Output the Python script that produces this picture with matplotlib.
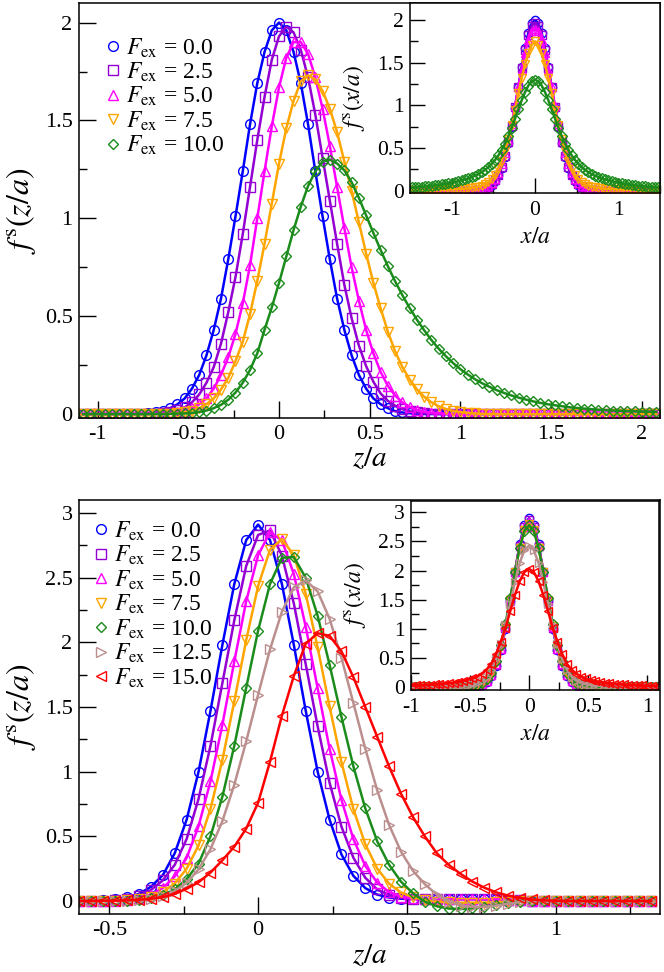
import matplotlib
matplotlib.use('Agg')
import matplotlib.pyplot as plt
import numpy as np
from matplotlib.lines import Line2D
from matplotlib.ticker import MultipleLocator, FuncFormatter

plt.rcParams['font.family'] = ['Liberation Serif', 'DejaVu Serif']
plt.rcParams['mathtext.fontset'] = 'stix'
plt.rcParams['axes.unicode_minus'] = False

COLORS = ['#0000ff', '#9400d3', '#ff00ff', '#ffa500', '#1b8c1b', '#bc8f8f', '#ff0000']
MARKERS = ['o', 's', '^', 'v', 'D', '>', '<']
MSIZE = [7, 6.5, 7, 7, 5.5, 7, 7]

forces_top = ['0.0', '2.5', '5.0', '7.5', '10.0']
forces_bot = ['0.0', '2.5', '5.0', '7.5', '10.0', '12.5', '15.0']

# sampling grids (step 0.04 a)
z_top = -1.08 + 0.04 * np.arange(80)
x_top = -1.48 + 0.04 * np.arange(75)
z_bot = -0.60 + 0.04 * np.arange(49)
x_bot = -1.00 + 0.04 * np.arange(53)

######################################################################
# upper panel, f^s(z/a)

f0_top = [0, 0, 0, 0, 0, 0, 0, 0,
          0.002, 0.004, 0.008, 0.015, 0.03, 0.05, 0.08, 0.13, 0.20, 0.30,
          0.43, 0.59, 0.79, 1.01, 1.24, 1.48, 1.69, 1.85, 1.96,
          2.00, 1.96, 1.85, 1.69, 1.48, 1.24, 1.01, 0.79, 0.59, 0.43,
          0.30, 0.20, 0.13, 0.08, 0.05, 0.03, 0.015, 0.008, 0.004, 0.002,
          0, 0, 0, 0, 0, 0, 0, 0, 0, 0, 0, 0, 0, 0, 0, 0, 0,
          0, 0, 0, 0, 0, 0, 0, 0, 0, 0, 0, 0, 0, 0, 0, 0]
f25_top = [0, 0, 0, 0, 0, 0, 0, 0, 0, 0,
           0.002, 0.005, 0.010, 0.019, 0.034, 0.06, 0.10, 0.16, 0.24,
           0.36, 0.52, 0.70, 0.92, 1.16, 1.40, 1.62, 1.81,
           1.93, 1.98, 1.95, 1.86, 1.72, 1.53, 1.31, 1.09, 0.87, 0.66, 0.49,
           0.35, 0.245, 0.165, 0.105, 0.067, 0.043, 0.025, 0.014, 0.008, 0.004, 0.002,
           0, 0, 0, 0, 0, 0, 0, 0, 0, 0, 0, 0, 0, 0, 0, 0,
           0, 0, 0, 0, 0, 0, 0, 0, 0, 0, 0, 0, 0, 0, 0]
f5_top = [0, 0, 0, 0, 0, 0, 0, 0, 0, 0, 0,
          0.002, 0.005, 0.01, 0.018, 0.03, 0.05, 0.08, 0.13,
          0.20, 0.29, 0.41, 0.565, 0.76, 1.00, 1.24, 1.47,
          1.67, 1.82, 1.90, 1.90, 1.84, 1.72, 1.56, 1.37, 1.16, 0.95, 0.75, 0.58,
          0.43, 0.31, 0.215, 0.144, 0.094, 0.059, 0.036, 0.021, 0.012, 0.007, 0.004, 0.002,
          0, 0, 0, 0, 0, 0, 0, 0, 0, 0, 0, 0, 0, 0, 0,
          0, 0, 0, 0, 0, 0, 0, 0, 0, 0, 0, 0, 0, 0]
f75_top = [0, 0, 0, 0, 0, 0, 0, 0, 0, 0, 0, 0,
           0.002, 0.005, 0.01, 0.018, 0.03, 0.05, 0.08, 0.125,
           0.185, 0.27, 0.37, 0.51, 0.68, 0.87, 1.075,
           1.28, 1.46, 1.60, 1.70, 1.73, 1.71, 1.65, 1.56, 1.44, 1.29,
           1.14, 0.98, 0.82, 0.67, 0.54, 0.42, 0.32, 0.24, 0.176, 0.126,
           0.088, 0.060, 0.040, 0.026, 0.016, 0.010, 0.006, 0.003, 0.001,
           0, 0, 0, 0, 0, 0, 0, 0, 0, 0, 0, 0,
           0, 0, 0, 0, 0, 0, 0, 0, 0, 0, 0, 0]
f10_top = [0, 0, 0, 0, 0, 0, 0, 0, 0, 0, 0, 0,
           0.001, 0.002, 0.003, 0.006, 0.011, 0.018, 0.03, 0.047,
           0.073, 0.11, 0.16, 0.225, 0.31, 0.43, 0.545,
           0.67, 0.805, 0.94, 1.06, 1.165, 1.24, 1.29,
           1.30, 1.28, 1.245, 1.185, 1.105, 1.015, 0.925, 0.838, 0.755, 0.678,
           0.607, 0.542, 0.482, 0.428, 0.378, 0.334, 0.295, 0.260, 0.229, 0.202,
           0.178, 0.157, 0.139, 0.122, 0.108, 0.095, 0.084, 0.074, 0.065, 0.057,
           0.050, 0.045, 0.040, 0.035, 0.031, 0.028, 0.025, 0.022, 0.020, 0.018,
           0.017, 0.015, 0.014, 0.013, 0.012, 0.011]

# upper inset, f^s(x/a)
g0_top = [0, 0, 0, 0, 0, 0, 0, 0, 0, 0, 0, 0, 0, 0, 0, 0, 0, 0,
          0.001, 0.003, 0.006, 0.012, 0.022, 0.04, 0.068, 0.11, 0.18, 0.27,
          0.40, 0.56, 0.75, 0.97, 1.21, 1.45, 1.67, 1.85, 1.96,
          2.00,
          1.96, 1.85, 1.67, 1.45, 1.21, 0.97, 0.75, 0.56, 0.40,
          0.27, 0.18, 0.11, 0.068, 0.04, 0.022, 0.012, 0.006, 0.003, 0.001,
          0, 0, 0, 0, 0, 0, 0, 0, 0, 0, 0, 0, 0, 0, 0, 0, 0, 0]
g25_top = [0, 0, 0, 0, 0, 0, 0, 0, 0, 0, 0, 0, 0, 0, 0, 0, 0,
           0.001, 0.002, 0.004, 0.007, 0.014, 0.025, 0.044, 0.074, 0.12, 0.19,
           0.28, 0.41, 0.57, 0.76, 0.98, 1.21, 1.44, 1.65, 1.82, 1.93,
           1.97,
           1.93, 1.82, 1.65, 1.44, 1.21, 0.98, 0.76, 0.57, 0.41, 0.28,
           0.19, 0.12, 0.074, 0.044, 0.025, 0.014, 0.007, 0.004, 0.002, 0.001,
           0, 0, 0, 0, 0, 0, 0, 0, 0, 0, 0, 0, 0, 0, 0, 0, 0]
g5_top = [0, 0, 0, 0, 0, 0, 0, 0, 0, 0, 0, 0, 0, 0, 0, 0, 0,
          0.001, 0.003, 0.005, 0.010, 0.018, 0.032, 0.054, 0.089, 0.14, 0.21,
          0.31, 0.44, 0.60, 0.78, 0.99, 1.21, 1.42, 1.61, 1.77, 1.87,
          1.90,
          1.87, 1.77, 1.61, 1.42, 1.21, 0.99, 0.78, 0.60, 0.44, 0.31,
          0.21, 0.14, 0.089, 0.054, 0.032, 0.018, 0.010, 0.005, 0.003, 0.001,
          0, 0, 0, 0, 0, 0, 0, 0, 0, 0, 0, 0, 0, 0, 0, 0, 0]
g75_top = [0.005, 0.006, 0.006, 0.007, 0.008, 0.008, 0.009, 0.010, 0.011, 0.012,
           0.013, 0.015, 0.016, 0.018, 0.020, 0.022, 0.025, 0.028, 0.032, 0.038,
           0.046, 0.058, 0.075, 0.10, 0.14, 0.19, 0.26, 0.35, 0.47, 0.61,
           0.77, 0.95, 1.14, 1.32, 1.48, 1.61, 1.71,
           1.75,
           1.71, 1.61, 1.48, 1.32, 1.14, 0.95, 0.77,
           0.61, 0.47, 0.35, 0.26, 0.19, 0.14, 0.10, 0.075, 0.058, 0.046,
           0.038, 0.032, 0.028, 0.025, 0.022, 0.020, 0.018, 0.016, 0.015, 0.013,
           0.012, 0.011, 0.010, 0.009, 0.008, 0.008, 0.007, 0.006, 0.006, 0.005]
g10_top = [0.038, 0.041, 0.044, 0.047, 0.051, 0.055, 0.059, 0.064, 0.069, 0.075,
           0.081, 0.088, 0.095, 0.103, 0.112, 0.122, 0.133, 0.146, 0.160, 0.176,
           0.195, 0.218, 0.245, 0.277, 0.315, 0.360, 0.414, 0.478, 0.553, 0.640,
           0.738, 0.845, 0.955, 1.060, 1.155, 1.232, 1.283,
           1.300,
           1.283, 1.232, 1.155, 1.060, 0.955, 0.845, 0.738,
           0.640, 0.553, 0.478, 0.414, 0.360, 0.315, 0.277, 0.245, 0.218, 0.195,
           0.176, 0.160, 0.146, 0.133, 0.122, 0.112, 0.103, 0.095, 0.088, 0.081,
           0.075, 0.069, 0.064, 0.059, 0.055, 0.051, 0.047, 0.044, 0.041, 0.038]

######################################################################
# lower panel, f^s(z/a)

f0_bot = [0, 0.002, 0.006, 0.014, 0.028, 0.055, 0.11, 0.20, 0.37, 0.63,
          1.00, 1.47, 1.98, 2.45, 2.79,
          2.91, 2.79, 2.45, 1.98, 1.47, 1.00, 0.63, 0.36, 0.195, 0.10,
          0.05, 0.027, 0.018, 0.015, 0.015, 0.015, 0.015, 0.015, 0.015, 0.014,
          0.012, 0.009, 0.005, 0.002,
          0, 0, 0, 0, 0, 0, 0, 0, 0, 0]
f25_bot = [0, 0.001, 0.003, 0.008, 0.018, 0.04, 0.085, 0.16, 0.28, 0.48,
           0.79, 1.20, 1.685, 2.17, 2.59,
           2.83, 2.865, 2.67, 2.30, 1.83, 1.35, 0.915, 0.575, 0.335, 0.18,
           0.09, 0.045, 0.025, 0.018, 0.016, 0.016, 0.016, 0.016, 0.016, 0.015,
           0.013, 0.01, 0.006, 0.003, 0.001,
           0, 0, 0, 0, 0, 0, 0, 0, 0]
f5_bot = [0, 0.001, 0.002, 0.004, 0.01, 0.022, 0.05, 0.10, 0.19, 0.334,
          0.579, 0.925, 1.363, 1.852, 2.318,
          2.674, 2.85, 2.788, 2.528, 2.12, 1.644, 1.179, 0.782, 0.479, 0.272,
          0.143, 0.069, 0.035, 0.02, 0.014, 0.014, 0.014, 0.014, 0.014, 0.014,
          0.012, 0.009, 0.005, 0.002,
          0, 0, 0, 0, 0, 0, 0, 0, 0, 0]
f75_bot = [0, 0, 0.001, 0.003, 0.007, 0.015, 0.035, 0.07, 0.135, 0.25,
           0.43, 0.712, 1.091, 1.543, 2.017,
           2.435, 2.716, 2.798, 2.673, 2.374, 1.96, 1.504, 1.073, 0.711, 0.439,
           0.251, 0.134, 0.066, 0.03, 0.008, -0.005, -0.011, -0.013, -0.013, -0.012,
           -0.01, -0.006, -0.002, 0,
           0, 0, 0, 0, 0, 0, 0, 0, 0, 0]
f10_bot = [0, 0, 0.001, 0.002, 0.004, 0.009, 0.02, 0.045, 0.09, 0.17,
           0.29, 0.50, 0.807, 1.20, 1.648,
           2.091, 2.451, 2.653, 2.659, 2.498, 2.205, 1.827, 1.423, 1.041, 0.716,
           0.462, 0.28, 0.15, 0.06, -0.005, -0.04, -0.058, -0.062, -0.056, -0.043,
           -0.029, -0.016, -0.007, -0.002,
           0, 0, 0, 0, 0, 0, 0, 0, 0, 0]
f125_bot = [0, 0, 0.001, 0.002, 0.004, 0.009, 0.019, 0.039, 0.077, 0.141,
            0.245, 0.401, 0.618, 0.899, 1.234,
            1.595, 1.945, 2.237, 2.425, 2.479, 2.393, 2.182, 1.88, 1.531, 1.178,
            0.856, 0.588, 0.382, 0.234, 0.13, 0.05, -0.005, -0.035, -0.045, -0.045,
            -0.035, -0.02, -0.008, 0,
            0, 0, 0, 0, 0, 0, 0, 0, 0, 0]
f15_bot = [0, 0.001, 0.002, 0.003, 0.006, 0.01, 0.018, 0.03, 0.055, 0.095,
           0.145, 0.22, 0.315, 0.42, 0.56,
           0.76, 1.078, 1.434, 1.74, 1.99, 2.07, 2.05, 1.93, 1.73, 1.50,
           1.27, 1.04, 0.83, 0.65, 0.50, 0.37, 0.28, 0.21, 0.15, 0.103,
           0.067, 0.042, 0.024, 0.012, 0.005, 0.002,
           0, 0, 0, 0, 0, 0, 0, 0]

# lower inset, f^s(x/a)
g0_bot = [0, 0, 0, 0, 0, 0, 0, 0, 0, 0, 0, 0,
          0.002, 0.006, 0.017, 0.041, 0.092, 0.19, 0.36, 0.63, 1.00, 1.47, 1.98, 2.45, 2.78,
          2.90, 2.78, 2.45, 1.98, 1.47, 1.00, 0.63, 0.36, 0.19, 0.092, 0.041, 0.017, 0.006, 0.002,
          0, 0, 0, 0, 0, 0, 0, 0, 0, 0, 0, 0, 0, 0]
g25_bot = [0, 0, 0, 0, 0, 0, 0, 0, 0, 0, 0,
           0.001, 0.003, 0.008, 0.019, 0.046, 0.10, 0.20, 0.38, 0.65, 1.02, 1.48, 1.98, 2.43, 2.75,
           2.87, 2.75, 2.43, 1.98, 1.48, 1.02, 0.65, 0.38, 0.20, 0.10, 0.046, 0.019, 0.008, 0.003, 0.001,
           0, 0, 0, 0, 0, 0, 0, 0, 0, 0, 0, 0, 0]
g5_bot = [0, 0, 0, 0, 0, 0, 0, 0, 0, 0, 0,
          0.001, 0.003, 0.008, 0.021, 0.048, 0.105, 0.21, 0.39, 0.66, 1.03, 1.48, 1.97, 2.42, 2.74,
          2.85, 2.74, 2.42, 1.97, 1.48, 1.03, 0.66, 0.39, 0.21, 0.105, 0.048, 0.021, 0.008, 0.003, 0.001,
          0, 0, 0, 0, 0, 0, 0, 0, 0, 0, 0, 0, 0]
g75_bot = [0, 0, 0, 0, 0, 0, 0, 0, 0, 0, 0,
           0.001, 0.004, 0.01, 0.025, 0.056, 0.12, 0.23, 0.41, 0.685, 1.05, 1.50, 1.97, 2.39, 2.69,
           2.80, 2.69, 2.39, 1.97, 1.50, 1.05, 0.685, 0.41, 0.23, 0.12, 0.056, 0.025, 0.01, 0.004, 0.001,
           0, 0, 0, 0, 0, 0, 0, 0, 0, 0, 0, 0, 0]
g10_bot = [0, 0, 0, 0, 0, 0, 0, 0,
           0.001, 0.002, 0.004, 0.007, 0.012, 0.02, 0.04, 0.075, 0.14, 0.25, 0.44, 0.72,
           1.09, 1.525, 1.98, 2.39, 2.68,
           2.78, 2.68, 2.39, 1.98, 1.525, 1.09, 0.72, 0.44, 0.25, 0.14, 0.075, 0.04,
           0.02, 0.012, 0.007, 0.004, 0.002, 0.001,
           0, 0, 0, 0, 0, 0, 0, 0, 0, 0]
g125_bot = [0.003, 0.003, 0.004, 0.005, 0.006, 0.007, 0.009, 0.011, 0.014, 0.017,
            0.022, 0.028, 0.037, 0.05, 0.07, 0.11, 0.18, 0.30, 0.48, 0.735,
            1.06, 1.43, 1.80, 2.13, 2.35,
            2.43, 2.35, 2.13, 1.80, 1.43, 1.06, 0.735, 0.48, 0.30, 0.18,
            0.11, 0.07, 0.05, 0.037, 0.028, 0.022, 0.017, 0.014, 0.011, 0.009,
            0.007, 0.006, 0.005, 0.004, 0.003, 0.003, 0.002, 0.002]
g15_bot = [0.025, 0.028, 0.032, 0.036, 0.041, 0.047, 0.053, 0.06, 0.068, 0.078,
           0.09, 0.105, 0.125, 0.15, 0.18, 0.23, 0.30, 0.40, 0.57, 0.78,
           1.016, 1.304, 1.582, 1.817, 1.975,
           2.03, 1.975, 1.817, 1.582, 1.304, 1.016, 0.78, 0.57, 0.40, 0.30,
           0.23, 0.18, 0.15, 0.125, 0.105, 0.09, 0.078, 0.068, 0.06, 0.053,
           0.047, 0.041, 0.036, 0.032, 0.028, 0.025, 0.022, 0.02]

top_main = [f0_top, f25_top, f5_top, f75_top, f10_top]
top_inset = [g0_top, g25_top, g5_top, g75_top, g10_top]
bot_main = [f0_bot, f25_bot, f5_bot, f75_bot, f10_bot, f125_bot, f15_bot]
bot_inset = [g0_bot, g25_bot, g5_bot, g75_bot, g10_bot, g125_bot, g15_bot]

for grid, group in [(z_top, top_main), (x_top, top_inset), (z_bot, bot_main), (x_bot, bot_inset)]:
    for i, s in enumerate(group):
        assert len(s) == len(grid), (len(grid), i, len(s))


######################################################################

def fmt(v, pos):
    return '%g' % v


def style_axes(ax, xmaj, ymaj, size, tlen, xpad, ypad):
    ax.xaxis.set_major_locator(MultipleLocator(xmaj))
    ax.xaxis.set_minor_locator(MultipleLocator(xmaj / 2))
    ax.yaxis.set_major_locator(MultipleLocator(ymaj))
    ax.yaxis.set_minor_locator(MultipleLocator(ymaj / 2))
    ax.xaxis.set_major_formatter(FuncFormatter(fmt))
    ax.yaxis.set_major_formatter(FuncFormatter(fmt))
    ax.tick_params(which='both', direction='in', width=1.0, labelsize=size)
    ax.tick_params(axis='x', pad=xpad)
    ax.tick_params(axis='y', pad=ypad)
    ax.tick_params(which='major', length=tlen)
    ax.tick_params(which='minor', length=tlen / 2)
    for s in ax.spines.values():
        s.set_linewidth(1.1)


def draw(ax, x, series, ms_scale):
    for i, y in enumerate(series):
        ax.plot(x, y, color=COLORS[i], lw=1.8, marker=MARKERS[i],
                ms=MSIZE[i] * ms_scale, mfc='none', mec=COLORS[i], mew=1.0)


def add_legend(ax, forces, anchor):
    handles = [Line2D([], [], ls='none', marker=MARKERS[i], mec=COLORS[i], mfc='none',
                      ms=MSIZE[i], mew=1.0) for i in range(len(forces))]
    texts = [r'$F_{\rm ex}$ = ' + f for f in forces]
    ax.legend(handles, texts, loc='upper left', bbox_to_anchor=anchor, frameon=False,
              fontsize=17, handlelength=0.8, handletextpad=0.15, labelspacing=0.05,
              borderpad=0, borderaxespad=0)


fig = plt.figure(figsize=(6.64, 9.72), dpi=100)

ax1 = fig.add_axes([0.1197, 0.570, 0.8743, 0.4269])
draw(ax1, z_top, top_main, 1.0)
ax1.set_xlim(-1.1, 2.1)
ax1.set_ylim(-0.02, 2.1)
style_axes(ax1, 0.5, 0.5, 16, 12, 5, 5)
ax1.set_xlabel(r'$z/a$', fontsize=21)
ax1.set_ylabel(r'$f^{\rm s}(z/a)$', fontsize=23)
ax1.xaxis.set_label_coords(0.5, -0.068)
ax1.yaxis.set_label_coords(-0.072, 0.5)
add_legend(ax1, forces_top, (0.042, 0.92))

ins1 = fig.add_axes([0.6175, 0.8014, 0.3765, 0.1955])
draw(ins1, x_top, top_inset, 0.85)
ins1.set_xlim(-1.5, 1.5)
ins1.set_ylim(-0.027, 2.2)
style_axes(ins1, 1.0, 0.5, 15.5, 11, 6, 4.5)
ins1.set_xlabel(r'$x/a$', fontsize=17)
ins1.set_ylabel(r'$f^{\rm s}(x/a)$', fontsize=17)
ins1.xaxis.set_label_coords(0.5, -0.18)
ins1.yaxis.set_label_coords(-0.173, 0.5)

ax2 = fig.add_axes([0.1197, 0.0597, 0.8743, 0.4259])
draw(ax2, z_bot, bot_main, 1.0)
ax2.set_xlim(-0.6, 1.35)
ax2.set_ylim(-0.1, 3.1)
style_axes(ax2, 0.5, 0.5, 16, 12, 5, 5)
ax2.set_xlabel(r'$z/a$', fontsize=21)
ax2.set_ylabel(r'$f^{\rm s}(z/a)$', fontsize=23)
ax2.xaxis.set_label_coords(0.5, -0.07)
ax2.yaxis.set_label_coords(-0.072, 0.5)
add_legend(ax2, forces_bot, (0.02, 0.953))

ins2 = fig.add_axes([0.619, 0.2901, 0.3735, 0.1948])
draw(ins2, x_bot, bot_inset, 0.85)
ins2.set_xlim(-1.0, 1.1)
ins2.set_ylim(-0.05, 3.2)
style_axes(ins2, 0.5, 0.5, 15.5, 11, 6, 4.5)
ins2.set_xlabel(r'$x/a$', fontsize=17)
ins2.set_ylabel(r'$f^{\rm s}(x/a)$', fontsize=17)
ins2.xaxis.set_label_coords(0.5, -0.18)
ins2.yaxis.set_label_coords(-0.173, 0.5)

fig.savefig('out.png', dpi=100)
